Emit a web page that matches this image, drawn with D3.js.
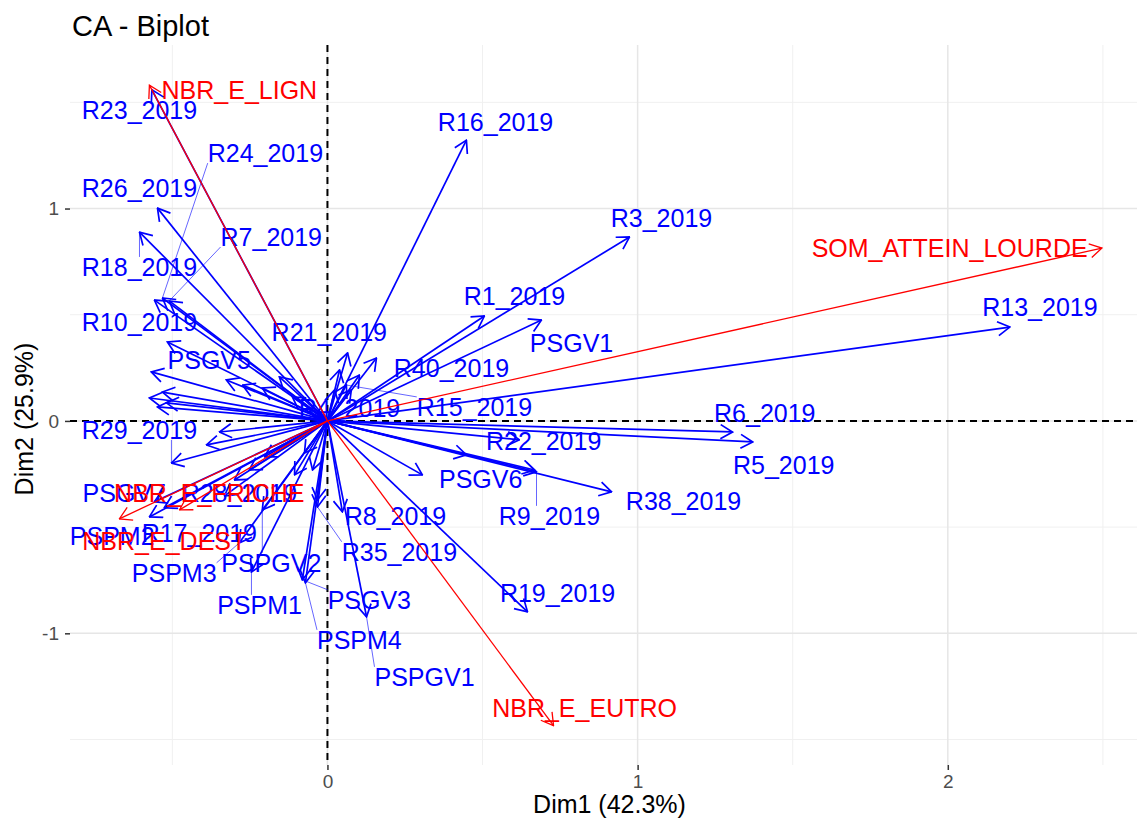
<!DOCTYPE html>
<html>
<head>
<meta charset="utf-8">
<script src="https://cdn.jsdelivr.net/npm/d3@7"></script>
<style>
  body { margin: 0; background: #fff; }
  text { font-family: "Liberation Sans", Arial, sans-serif; }
</style>
</head>
<body>
<svg width="1141" height="820"></svg>
<script>
// column points (red arrows)
const colNames = ["NBR_E_LIGN", "SOM_ATTEIN_LOURDE", "NBR_E_EUTRO", "NBR_E_DEST", "NBR_E_FRICHE"];
const colX = [-0.574, 2.497, 0.729, -0.671, -0.477];
const colY = [1.581, 0.814, -1.435, -0.461, -0.419];
const colLabelX = [-0.284, 2.006, 0.829, -0.526, -0.381];
const colLabelY = [1.558, 0.814, -1.351, -0.565, -0.339];

// row points (blue arrows), labelX null = label not shown
const rowNames = [
  "R16_2019", "R3_2019", "R13_2019", "R1_2019", "PSGV1", "R6_2019", "R5_2019", "R38_2019",
  "R9_2019", "R22_2019", "PSGV6", "R19_2019", "R8_2019", "R35_2019", "PSGV3", "PSPM4",
  "PSPGV1", "PSPGV2", "PSPM1", "PSPM3", "PSPM2", "R17_2019", "PSGV7", "R28_2019",
  "R23_2019", "R24_2019", "R26_2019", "R7_2019", "R18_2019", "R10_2019", "PSGV5", "R21_2019",
  "R40_2019", "R15_2019", "R4_2019", "R29_2019",
  "R2_2019", "R11_2019", "R12_2019", "R14_2019", "R20_2019", "R25_2019", "R27_2019", "R30_2019",
  "R31_2019", "R32_2019", "R33_2019", "R34_2019", "R36_2019", "R37_2019", "R39_2019", "PSGV2",
  "PSGV4", "PSPM5", "R41_2019", "R42_2019", "R43_2019", "R44_2019", "R45_2019", "R46_2019"
];
const rowX = [
  0.448, 0.974, 2.2, 0.506, 0.69, 1.306, 1.371, 0.916,
  0.674, 0.448, 0.306, 0.645, 0.048, -0.032, -0.081, -0.071,
  0.126, -0.21, -0.245, -0.284, -0.574, -0.526, -0.558, -0.332,
  -0.566, -0.532, -0.548, -0.51, -0.606, -0.558, -0.516, 0.065,
  0.158, 0.061, 0.077, -0.503,
  -0.568, -0.532, -0.548, -0.519, -0.574, -0.326, -0.274, -0.21,
  -0.348, -0.39, -0.203, -0.252, -0.3, -0.074, -0.048, -0.032,
  -0.106, 0.023, 0.103, 0.039, -0.155, -0.113, 0.668, 0.619
];
const rowY = [
  1.322, 0.866, 0.442, 0.494, 0.475, -0.052, -0.099, -0.334,
  -0.24, -0.16, -0.254, -0.899, -0.428, -0.405, -0.748, -0.762,
  -0.922, -0.419, -0.711, -0.574, -0.452, -0.409, -0.381, -0.353,
  1.559, 0.579, 1.002, 0.565, 0.889, 0.569, 0.372, 0.32,
  0.296, 0.169, 0.146, -0.198,
  0.231, 0.136, 0.066, 0.085, 0.108, 0.193, 0.169, 0.155,
  -0.052, -0.113, -0.169, -0.231, -0.278, -0.151, -0.231, -0.372,
  -0.254, 0.146, 0.216, 0.24, 0.207, 0.113, -0.231, -0.089
];
const rowLabelX = [
  0.542, 1.077, 2.297, 0.603, 0.787, 1.41, 1.471, 1.148,
  0.716, 0.697, 0.494, 0.742, 0.219, 0.232, 0.135, 0.103,
  0.313, -0.181, -0.219, -0.494, -0.694, -0.413, -0.655, -0.284,
  -0.606, -0.2, -0.606, -0.181, -0.606, -0.606, -0.381, 0.006,
  0.4, 0.474, 0.071, -0.606
];
const rowLabelY = [
  1.407, 0.955, 0.536, 0.588, 0.367, 0.038, -0.207, -0.376,
  -0.447, -0.094, -0.273, -0.809, -0.447, -0.616, -0.842, -1.031,
  -1.205, -0.668, -0.866, -0.715, -0.541, -0.527, -0.339, -0.339,
  1.464, 1.261, 1.096, 0.866, 0.725, 0.466, 0.287, 0.419,
  0.249, 0.066, 0.061, -0.042
];

const xTicks = [0, 1, 2];
const yTicks = [-1, 0, 1];
const xMinor = [-0.5, 0.5, 1.5, 2.5];
const yMinor = [-1.5, -0.5, 0.5, 1.5];

const svg = d3.select("svg");

const pLeft = 70, pRight = 1137, pTop = 45, pBottom = 765;
const x = d3.scaleLinear().domain([-0.83, 2.61]).range([pLeft, pRight]);
const y = d3.scaleLinear().domain([-1.62, 1.77]).range([pBottom, pTop]);

// 그리드
svg.selectAll(".minx").data(xMinor).join("line")
  .attr("x1", d => x(d)).attr("x2", d => x(d))
  .attr("y1", pTop).attr("y2", pBottom)
  .attr("stroke", "#F0F0F0").attr("stroke-width", 1);
svg.selectAll(".miny").data(yMinor).join("line")
  .attr("y1", d => y(d)).attr("y2", d => y(d))
  .attr("x1", pLeft).attr("x2", pRight)
  .attr("stroke", "#F0F0F0").attr("stroke-width", 1);
svg.selectAll(".majx").data(xTicks).join("line")
  .attr("x1", d => x(d)).attr("x2", d => x(d))
  .attr("y1", pTop).attr("y2", pBottom)
  .attr("stroke", "#E6E6E6").attr("stroke-width", 1.5);
svg.selectAll(".majy").data(yTicks).join("line")
  .attr("y1", d => y(d)).attr("y2", d => y(d))
  .attr("x1", pLeft).attr("x2", pRight)
  .attr("stroke", "#E6E6E6").attr("stroke-width", 1.5);

// 축 (tick only)
const xAxis = svg.append("g")
  .attr("transform", `translate(0,${pBottom})`)
  .call(d3.axisBottom(x).tickValues(xTicks).tickFormat(d3.format("d")).tickSize(5).tickPadding(5));
const yAxis = svg.append("g")
  .attr("transform", `translate(${pLeft},0)`)
  .call(d3.axisLeft(y).tickValues(yTicks).tickFormat(d3.format("d")).tickSize(5).tickPadding(6));
[xAxis, yAxis].forEach(g => {
  g.select(".domain").remove();
  g.selectAll(".tick line").attr("stroke", "#333").attr("stroke-width", 1.5);
  g.selectAll(".tick text").attr("fill", "#4D4D4D").style("font-size", "19px")
    .style("font-family", "Liberation Sans, Arial, sans-serif");
});
yAxis.selectAll(".tick text").text(d => d < 0 ? "-" + Math.abs(d) : d);

// 원점 점선
svg.append("line")
  .attr("x1", x(0)).attr("x2", x(0)).attr("y1", pTop).attr("y2", pBottom)
  .attr("stroke", "black").attr("stroke-width", 2).attr("stroke-dasharray", "7,5");
svg.append("line")
  .attr("x1", pLeft).attr("x2", pRight).attr("y1", y(0)).attr("y2", y(0))
  .attr("stroke", "black").attr("stroke-width", 2).attr("stroke-dasharray", "7,5");

// 화살표 머리
const defs = svg.append("defs");
[["blueHead", "#0000FF", 1.7], ["redHead", "#FF0000", 1.3]].forEach(([id, c, w]) => {
  defs.append("marker")
    .attr("id", id)
    .attr("viewBox", "-1 -1 14 16")
    .attr("refX", 12).attr("refY", 7)
    .attr("markerWidth", 14).attr("markerHeight", 16)
    .attr("markerUnits", "userSpaceOnUse")
    .attr("orient", "auto")
    .append("path")
    .attr("d", "M0,0L12,7L0,14")
    .attr("fill", "none")
    .attr("stroke", c)
    .attr("stroke-width", w);
});

// 행 화살표
const rows = rowNames.map((n, i) => ({
  name: n, x: rowX[i], y: rowY[i],
  lx: i < rowLabelX.length ? rowLabelX[i] : null,
  ly: i < rowLabelY.length ? rowLabelY[i] : null
}));
svg.append("g").selectAll("line").data(rows).join("line")
  .attr("x1", x(0)).attr("y1", y(0))
  .attr("x2", d => x(d.x)).attr("y2", d => y(d.y))
  .attr("stroke", "#0000FF").attr("stroke-width", 1.7)
  .attr("marker-end", "url(#blueHead)");

// 라벨 + 연결선 (repel 느낌)
function drawLabels(data, color, cls) {
  const lineG = svg.append("g");
  const txt = svg.append("g").selectAll("text").data(data.filter(d => d.lx !== null)).join("text")
    .attr("class", cls)
    .attr("x", d => x(d.lx)).attr("y", d => y(d.ly))
    .attr("text-anchor", "middle")
    .attr("dominant-baseline", "central")
    .attr("fill", color)
    .style("font-size", "25px")
    .text(d => d.name);
  txt.each(function(d) {
    const w = this.getComputedTextLength();
    const cx = x(d.lx), cy = y(d.ly);
    const px = x(d.x), py = y(d.y);
    const nx = Math.max(cx - w / 2, Math.min(px, cx + w / 2));
    const ny = Math.max(cy - 10, Math.min(py, cy + 10));
    const dist = Math.hypot(px - nx, py - ny);
    if (dist > 20) {
      lineG.append("line")
        .attr("x1", px).attr("y1", py).attr("x2", nx).attr("y2", ny)
        .attr("stroke", color).attr("stroke-opacity", 0.6).attr("stroke-width", 1);
    }
  });
}
drawLabels(rows, "#0000FF", "rowLab");

// 열 화살표
const cols = colNames.map((n, i) => ({ name: n, x: colX[i], y: colY[i], lx: colLabelX[i], ly: colLabelY[i] }));
svg.append("g").selectAll("line").data(cols).join("line")
  .attr("x1", x(0)).attr("y1", y(0))
  .attr("x2", d => x(d.x)).attr("y2", d => y(d.y))
  .attr("stroke", "#FF0000").attr("stroke-width", 1.3)
  .attr("marker-end", "url(#redHead)");
drawLabels(cols, "#FF0000", "colLab");

// 제목과 축 제목
svg.append("text")
  .attr("x", 72).attr("y", 36)
  .style("font-size", "29px")
  .text("CA - Biplot");
svg.append("text")
  .attr("x", (pLeft + pRight) / 2 + 6).attr("y", 813)
  .attr("text-anchor", "middle")
  .style("font-size", "25px")
  .text("Dim1 (42.3%)");
svg.append("text")
  .attr("transform", `translate(33,${(pTop + pBottom) / 2 + 14}) rotate(-90)`)
  .attr("text-anchor", "middle")
  .style("font-size", "25px")
  .text("Dim2 (25.9%)");
</script>
</body>
</html>
